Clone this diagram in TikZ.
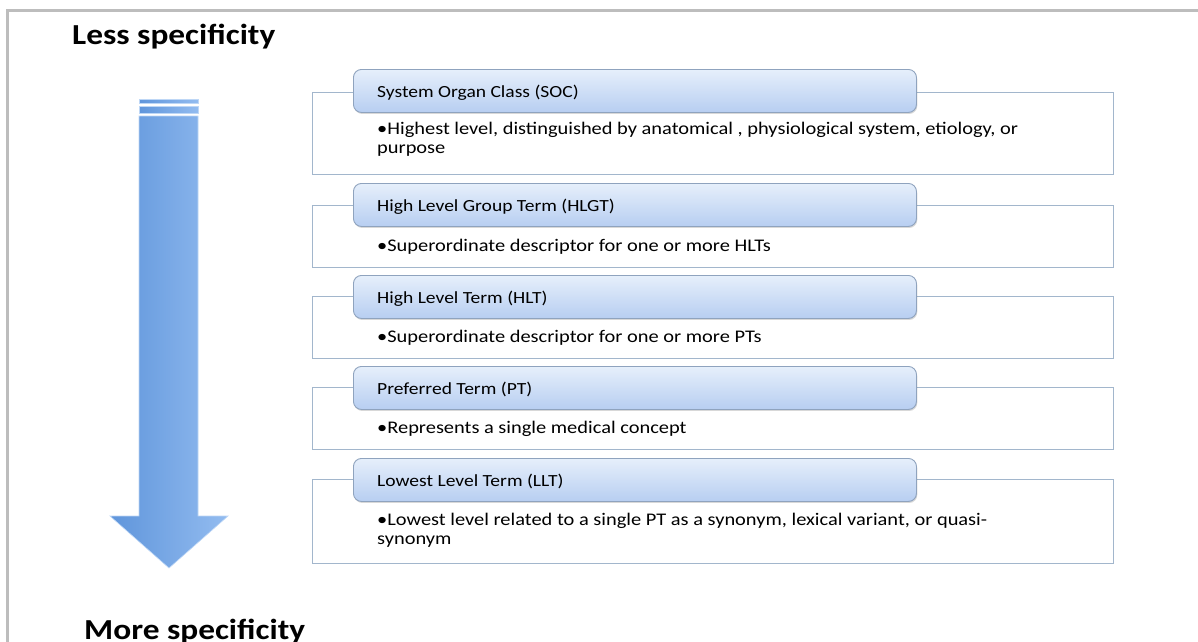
\documentclass[tikz,border=0pt]{standalone}
\usepackage{fontspec}
\setmainfont[FakeStretch=1.15]{Carlito}
\usetikzlibrary{shadows}
\definecolor{framegray}{HTML}{BDBDBD}
\definecolor{arrowL}{HTML}{5F95DB}
\definecolor{arrowR}{HTML}{93BCF0}
\definecolor{hdrTop}{HTML}{E6EFFB}
\definecolor{hdrBot}{HTML}{B7CEF1}
\definecolor{hdrLine}{HTML}{8FA3BE}
\definecolor{boxLine}{HTML}{A2B6CC}
\tikzset{
  titletext/.style={font=\bfseries\fontsize{29}{34}\selectfont, inner sep=0pt, anchor=base west},
  bodybox/.style={draw=boxLine, line width=1.2pt, fill=white, anchor=north west, minimum width=801, inner sep=0pt},
  hdrbox/.style={draw=hdrLine, line width=0.9pt, rounded corners=8pt, top color=hdrTop, bottom color=hdrBot,
    anchor=north west, minimum width=563, minimum height=43, inner sep=0pt,
    drop shadow={shadow xshift=0.8pt, shadow yshift=-1.5pt, opacity=0.25, fill=black!60}},
  hdrtext/.style={anchor=base west, inner sep=0pt, font=\fontsize{17}{20}\selectfont},
  bodytext/.style={anchor=base west, inner sep=0pt, align=left, font=\fontsize{17.75}{19.5}\selectfont},
}
\begin{document}
\begin{tikzpicture}[x=1pt,y=-1pt]
\useasboundingbox (0,0) rectangle (1198,641);
\fill[white] (0,0) rectangle (1198,641);
\draw[framegray, line width=2.5pt] (7.5,650) -- (7.5,10.5) -- (1205,10.5);

\node[titletext] (less) at (72,44) {Less specificity};
\node[titletext] (more) at (84,639) {More specificity};

% arrow
\shade[left color=arrowL, right color=arrowR, draw=arrowR!60!white, line width=0.6pt]
  (139,116) -- (198,116) -- (198,516) -- (228,516) -- (169,568) -- (110,516) -- (139,516) -- cycle;
\shade[left color=arrowL, right color=arrowR, draw=arrowR!60!white, line width=0.6pt] (139,99) rectangle (198,103);
\shade[left color=arrowL, right color=arrowR, draw=arrowR!60!white, line width=0.6pt] (139,106) rectangle (198,113);

% group 1
\node[bodybox, minimum height=82] (b1) at (312,92) {};
\node[hdrbox] (h1) at (353,69) {};
\node[hdrtext] (h1t) at (377,97) {System Organ Class (SOC)};
\node[bodytext] (t1) at (377,153.5) {•Highest level, distinguished by anatomical , physiological system, etiology, or\\purpose};
% group 2
\node[bodybox, minimum height=62] (b2) at (312,205) {};
\node[hdrbox] (h2) at (353,183) {};
\node[hdrtext] (h2t) at (377,211) {High Level Group Term (HLGT)};
\node[bodytext] (t2) at (377,251) {•Superordinate descriptor for one or more HLTs};
% group 3
\node[bodybox, minimum height=62] (b3) at (312,296) {};
\node[hdrbox] (h3) at (353,275) {};
\node[hdrtext] (h3t) at (377,303) {High Level Term (HLT)};
\node[bodytext] (t3) at (377,342) {•Superordinate descriptor for one or more PTs};
% group 4
\node[bodybox, minimum height=62] (b4) at (312,387) {};
\node[hdrbox] (h4) at (353,366) {};
\node[hdrtext] (h4t) at (377,394) {Preferred Term (PT)};
\node[bodytext] (t4) at (377,433) {•Represents a single medical concept};
% group 5
\node[bodybox, minimum height=84] (b5) at (312,479) {};
\node[hdrbox] (h5) at (353,458) {};
\node[hdrtext] (h5t) at (377,486) {Lowest Level Term (LLT)};
\node[bodytext] (t5) at (377,544.5) {•Lowest level related to a single PT as a synonym, lexical variant, or quasi-\\synonym};
\end{tikzpicture}
\end{document}
